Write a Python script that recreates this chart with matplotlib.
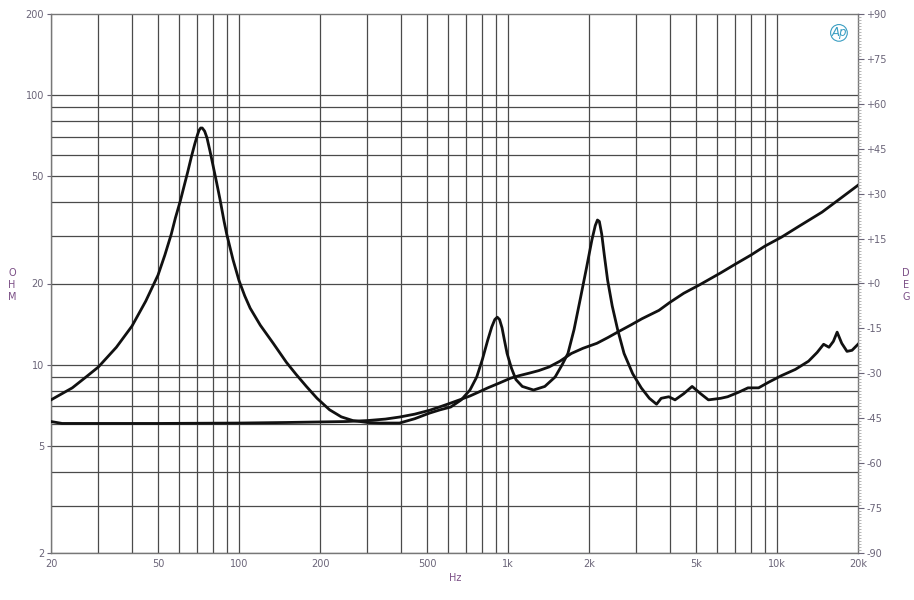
import numpy as np
import matplotlib
matplotlib.use("Agg")
import matplotlib.pyplot as plt
from matplotlib.ticker import FixedLocator, NullFormatter

# Impedance curve with resonance peaks (Hz, ohm)
freq_a = [20, 24, 27, 30, 35, 40, 45, 50, 53, 56, 58, 60.5, 62.5, 64.5, 66.5, 68.5,
          70, 71, 72, 73, 74.5, 76, 78, 80, 82.5, 85, 88, 90, 95, 100, 105, 110, 120,
          134, 150, 163, 178, 195, 217, 240, 265, 300, 334, 395, 450, 511, 560, 612,
          670, 722, 765, 804, 840, 870, 893, 912, 930, 950, 970, 992, 1030, 1070,
          1130, 1244, 1370, 1497, 1590, 1670, 1760, 1862, 1960, 2050, 2110, 2150,
          2185, 2230, 2280, 2345, 2440, 2555, 2700, 2906, 3128, 3353, 3566, 3710,
          3960, 4177, 4500, 4835, 5200, 5558, 6174, 6553, 7200, 7800, 8540, 9300,
          10380, 11700, 13100, 14100, 14900, 15600, 16200, 16730, 17400, 18200,
          19000, 20000]
ohm_a = [7.4, 8.2, 9.0, 9.8, 11.6, 13.9, 17.2, 21.5, 25.5, 30.5, 35.0, 40.5, 46.0,
         52.0, 59.0, 66.0, 71.0, 74.0, 75.5, 75.5, 73.5, 69.5, 62.0, 55.0, 47.5,
         41.0, 34.0, 30.5, 24.5, 20.5, 18.0, 16.2, 14.0, 12.0, 10.2, 9.2, 8.3, 7.5,
         6.8, 6.4, 6.2, 6.1, 6.07, 6.07, 6.3, 6.61, 6.8, 6.96, 7.4, 8.05, 9.0, 10.5,
         12.3, 13.8, 14.7, 15.0, 14.7, 13.7, 12.3, 11.0, 9.7, 8.8, 8.3, 8.05, 8.3,
         9.0, 10.0, 11.0, 13.5, 17.8, 23.0, 29.0, 32.8, 34.4, 34.0, 30.5, 25.5, 20.6,
         16.5, 13.5, 11.0, 9.26, 8.2, 7.5, 7.13, 7.5, 7.6, 7.4, 7.8, 8.3, 7.8, 7.4,
         7.5, 7.6, 7.9, 8.2, 8.2, 8.6, 9.1, 9.6, 10.3, 11.1, 11.9, 11.6, 12.2, 13.2,
         12.0, 11.2, 11.3, 11.9]

# Rising impedance curve (Hz, ohm)
freq_b = [20, 22, 50, 100, 150, 250, 300, 350, 395, 450, 511, 560, 612, 665, 722,
          780, 841, 930, 1020, 1100, 1200, 1300, 1420, 1560, 1720, 1900, 2140, 2350,
          2555, 2850, 3147, 3640, 3990, 4500, 5165, 6174, 7000, 8000, 9000, 10380,
          12000, 14700, 17000, 20000]
ohm_b = [6.15, 6.05, 6.05, 6.07, 6.1, 6.15, 6.2, 6.28, 6.39, 6.55, 6.77, 6.98, 7.2,
         7.42, 7.65, 7.92, 8.2, 8.55, 8.9, 9.1, 9.3, 9.5, 9.8, 10.3, 11.0, 11.5, 12.0,
         12.6, 13.2, 14.0, 14.8, 15.9, 17.0, 18.4, 19.8, 21.9, 23.6, 25.5, 27.5, 29.7,
         32.5, 36.8, 41.0, 46.3]

x_labels = [20, 50, 100, 200, 500, 1000, 2000, 5000, 10000, 20000]
x_label_text = ["20", "50", "100", "200", "500", "1k", "2k", "5k", "10k", "20k"]
x_grid = [20, 30, 40, 50, 60, 70, 80, 90, 100, 200, 300, 400, 500, 600, 700, 800, 900,
          1000, 2000, 3000, 4000, 5000, 6000, 7000, 8000, 9000, 10000]
y_labels = [2, 5, 10, 20, 50, 100, 200]
y_grid = [2, 3, 4, 5, 6, 7, 8, 9, 10, 20, 30, 40, 50, 60, 70, 80, 90, 100]
deg_ticks = list(range(-90, 91, 15))

tick_col = "#6a6478"
lab_col = "#7b4f86"
grid_col = "#4a4a4a"

fig = plt.figure(figsize=(9.14, 6.0), dpi=100)
ax = fig.add_axes([51 / 914, 1 - 553 / 600, 807 / 914, 539 / 600])
ax.set_xscale("log")
ax.set_yscale("log")
ax.set_xlim(20, 20000)
ax.set_ylim(2, 200)

for f in x_grid:
    ax.axvline(f, color=grid_col, lw=0.9, zorder=1)
for v in y_grid:
    ax.axhline(v, color=grid_col, lw=0.9, zorder=1)

ax.plot(freq_a, ohm_a, color="#111111", lw=2.0, zorder=3, solid_joinstyle="round")
ax.plot(freq_b, ohm_b, color="#111111", lw=2.0, zorder=3, solid_joinstyle="round")

ax.xaxis.set_major_locator(FixedLocator(x_labels))
ax.xaxis.set_minor_locator(FixedLocator([]))
ax.set_xticklabels(x_label_text)
ax.yaxis.set_major_locator(FixedLocator(y_labels))
ax.yaxis.set_minor_locator(FixedLocator([]))
ax.set_yticklabels([str(v) for v in y_labels])
ax.yaxis.set_minor_formatter(NullFormatter())
ax.tick_params(axis="x", length=0, labelsize=7, colors=tick_col, pad=4)
ax.tick_params(axis="y", length=3, labelsize=7, colors=tick_col, pad=2)
for s in ax.spines.values():
    s.set_color("#777777")
    s.set_linewidth(1.0)

ax2 = ax.twinx()
ax2.set_ylim(-90, 90)
ax2.set_yticks(deg_ticks)
ax2.set_yticklabels([("+%d" % d) if d >= 0 else ("%d" % d) for d in deg_ticks])
ax2.set_yticks(list(range(-90, 91, 1)), minor=True)
ax2.tick_params(axis="y", which="major", length=4, labelsize=7, colors=tick_col, pad=2)
ax2.tick_params(axis="y", which="minor", length=2, color="#aaaaaa")
for s in ax2.spines.values():
    s.set_visible(False)

ax.text(0.986, 0.977, "Ap", transform=ax.transAxes, ha="right", va="top",
        color="#3a9ec2", fontsize=8.5, style="italic", zorder=5,
        bbox=dict(boxstyle="circle,pad=0.05", fc="none", ec="#3a9ec2", lw=0.8))

fig.text(455 / 914, 1 - 578 / 600, "Hz", color=lab_col, fontsize=7, ha="center", va="center")
fig.text(12 / 914, 1 - 285 / 600, "O\nH\nM", color=lab_col, fontsize=7, ha="center",
         va="center", linespacing=1.2)
fig.text(906 / 914, 1 - 285 / 600, "D\nE\nG", color=lab_col, fontsize=7, ha="center",
         va="center", linespacing=1.2)

fig.savefig("out.png", dpi=100, facecolor="white")
